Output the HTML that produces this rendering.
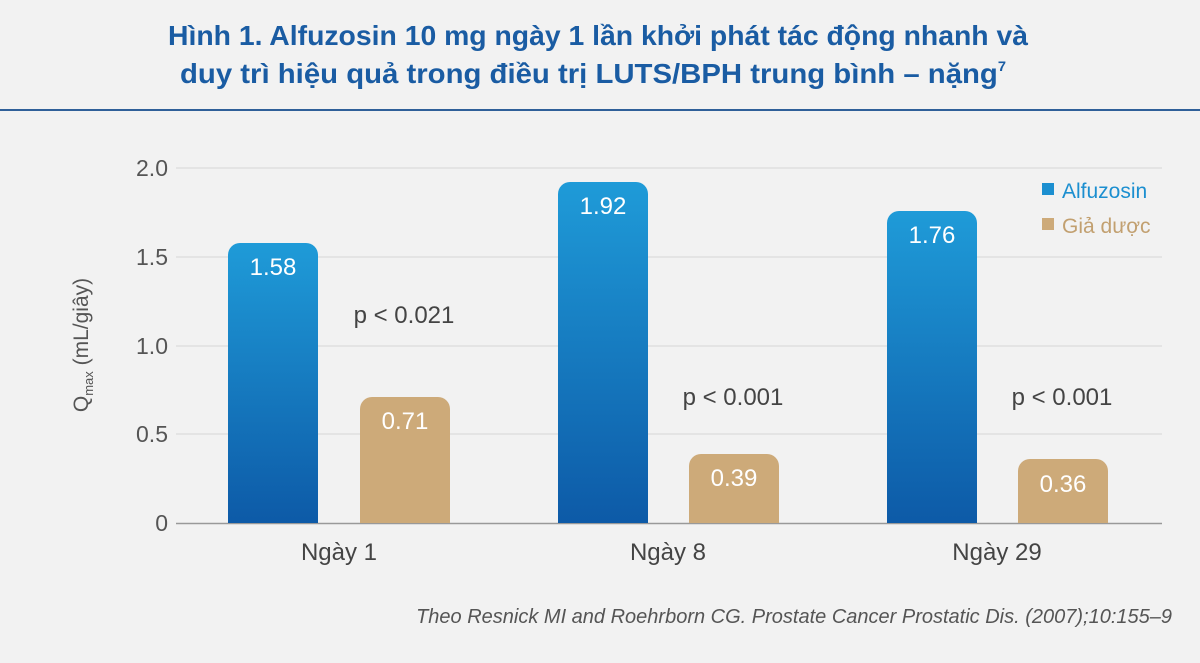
<!DOCTYPE html>
<html><head><meta charset="utf-8"><style>
body{margin:0;width:1200px;height:663px;background:#f2f2f2;overflow:hidden;font-family:"Liberation Sans",sans-serif}
</style></head><body>
<svg width="1200" height="663" xmlns="http://www.w3.org/2000/svg" style="position:absolute;left:0;top:0">
<defs><linearGradient id="g" x1="0" y1="0" x2="0" y2="1"><stop offset="0" stop-color="#1f9bd8"/><stop offset="1" stop-color="#0d5aa7"/></linearGradient></defs>
<g font-family="Liberation Sans, sans-serif" font-weight="bold" fill="#1a5ca3" font-size="28" text-anchor="middle">
<text x="598" y="45" textLength="860" lengthAdjust="spacingAndGlyphs">Hình 1. Alfuzosin 10 mg ngày 1 lần khởi phát tác động nhanh và</text>
<text x="593" y="83" textLength="826" lengthAdjust="spacingAndGlyphs">duy trì hiệu quả trong điều trị LUTS/BPH trung bình – nặng<tspan font-size="14" dy="-12">7</tspan></text>
</g>
<rect x="0" y="109" width="1200" height="2" fill="#2f6099"/>
<g stroke="#d6d6d6" stroke-width="1">
<line x1="176" y1="168" x2="1162" y2="168"/><line x1="176" y1="257" x2="1162" y2="257"/><line x1="176" y1="346" x2="1162" y2="346"/><line x1="176" y1="434" x2="1162" y2="434"/>
</g>
<line x1="176" y1="523.5" x2="1162" y2="523.5" stroke="#999" stroke-width="1.5"/>
<g font-size="23" fill="#555" text-anchor="end">
<text x="168" y="176">2.0</text><text x="168" y="265">1.5</text><text x="168" y="354">1.0</text><text x="168" y="442">0.5</text><text x="168" y="531">0</text>
</g>
<text transform="translate(88,345) rotate(-90)" font-size="21" fill="#555" text-anchor="middle">Q<tspan font-size="13" dy="5">max</tspan><tspan dy="-5"> (mL/giây)</tspan></text>
<g fill="url(#g)">
<path d="M228,523V255a12,12 0 0 1 12,-12H306a12,12 0 0 1 12,12V523Z"/>
<path d="M558,523V194a12,12 0 0 1 12,-12H636a12,12 0 0 1 12,12V523Z"/>
<path d="M887,523V223a12,12 0 0 1 12,-12H965a12,12 0 0 1 12,12V523Z"/>
</g>
<g fill="#cdaa79">
<path d="M360,523V409a12,12 0 0 1 12,-12H438a12,12 0 0 1 12,12V523Z"/>
<path d="M689,523V466a12,12 0 0 1 12,-12H767a12,12 0 0 1 12,12V523Z"/>
<path d="M1018,523V471a12,12 0 0 1 12,-12H1096a12,12 0 0 1 12,12V523Z"/>
</g>
<g font-size="24" fill="#fff" text-anchor="middle">
<text x="273" y="275">1.58</text><text x="603" y="214">1.92</text><text x="932" y="243">1.76</text>
<text x="405" y="429">0.71</text><text x="734" y="486">0.39</text><text x="1063" y="492">0.36</text>
</g>
<g font-size="24" fill="#444" text-anchor="middle">
<text x="404" y="323">p &lt; 0.021</text><text x="733" y="405">p &lt; 0.001</text><text x="1062" y="405">p &lt; 0.001</text>
<text x="339" y="560">Ngày 1</text><text x="668" y="560">Ngày 8</text><text x="997" y="560">Ngày 29</text>
</g>
<rect x="1042" y="183" width="12" height="12" fill="#1c8fd0"/>
<text x="1062" y="198" font-size="21" fill="#1c8fd0">Alfuzosin</text>
<rect x="1042" y="218" width="12" height="12" fill="#cdaa79"/>
<text x="1062" y="233" font-size="21" fill="#c2a070">Giả dược</text>
<text x="1172" y="623" font-size="20" font-style="italic" fill="#555" text-anchor="end">Theo Resnick MI and Roehrborn CG. Prostate Cancer Prostatic Dis. (2007);10:155–9</text>
</svg>
</body></html>
